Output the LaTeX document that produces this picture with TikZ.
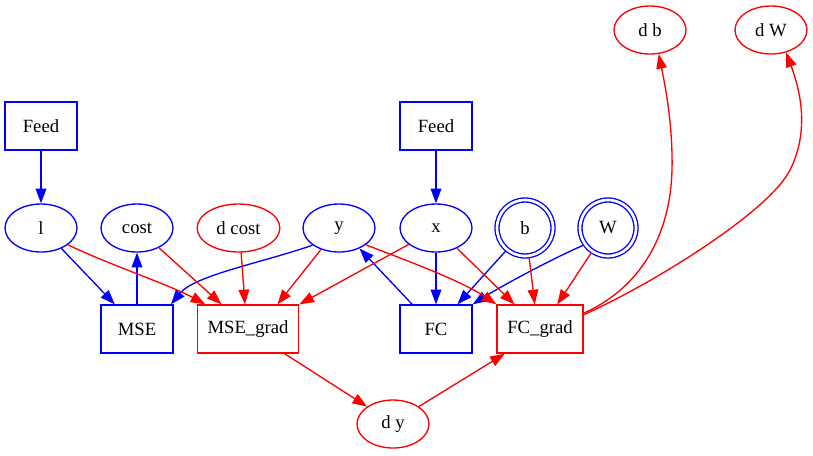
\documentclass[tikz,border=0pt]{standalone}
\usepackage{fontspec}
\setmainfont{Liberation Serif}
\usetikzlibrary{shapes.geometric,arrows.meta}
\begin{document}
\begin{tikzpicture}[x=0.75pt,y=-0.75pt,
  every node/.style={font=\fontsize{14}{16}\selectfont, line width=1pt, inner sep=0pt},
  boxnode/.style={draw, rectangle, minimum width=54pt, minimum height=36pt},
  ellnode/.style={draw, ellipse, minimum width=54pt, minimum height=36pt},
  dcirc/.style={draw, circle, minimum size=42pt, double, double distance=2pt, outer sep=1.5pt},
  bl/.style={draw=blue, text=black},
  rd/.style={draw=red, text=black},
  bedge/.style={blue, line width=1pt, -{Triangle[length=11pt,width=8pt]}},
  redge/.style={red, line width=1pt, -{Triangle[length=11pt,width=8pt]}},
]
\useasboundingbox (0,0) rectangle (813,455);
\node[boxnode,bl] (f1) at (41,126) {Feed};
\node[boxnode,bl] (f2) at (436,126) {Feed};
\node[ellnode,bl] (l) at (41,228) {l};
\node[ellnode,bl] (cost) at (137,228) {cost};
\node[ellnode,rd,minimum width=62pt] (dcost) at (238.5,228) {d cost};
\node[ellnode,bl] (y) at (339,228) {y};
\node[ellnode,bl] (x) at (436,228) {x};
\node[dcirc,bl] (b) at (525,228) {b};
\node[dcirc,bl] (W) at (608,228) {W};
\node[ellnode,rd] (db) at (650,30) {d b};
\node[ellnode,rd] (dW) at (771,30) {d W};
\node[boxnode,bl] (MSE) at (137,329) {MSE};
\node[boxnode,rd,minimum width=76pt] (MSEg) at (248,329) {MSE\_grad};
\node[boxnode,bl] (FC) at (436,329) {FC};
\node[boxnode,rd,minimum width=64.5pt] (FCg) at (540,329) {FC\_grad};
\node[ellnode,rd] (dy) at (393,424) {d y};
% blue edges
\draw[bedge] (f1) -- (l);
\draw[bedge] (f2) -- (x);
\draw[bedge] (l.-45) -- (MSE.132);
\draw[bedge] (MSE) -- (cost);
\draw[bedge] (y.213) .. controls (265,262) and (195,275) .. (MSE.36);
\draw[bedge] (FC.134) -- (y.-45);
\draw[bedge] (x) -- (FC);
\draw[bedge] (b.230) -- (FC.49);
\draw[bedge] (W.215) .. controls (545,262) and (495,290) .. (FC.north east);
% red edges
\draw[redge] (l.-32) .. controls (110,265) and (170,285) .. (MSEg.150);
\draw[redge] (cost.-42) -- (MSEg.137);
\draw[redge] (dcost.-84) -- (MSEg.97);
\draw[redge] (y.230) -- (MSEg.40);
\draw[redge] (x.211) -- (MSEg.north east);
\draw[redge] (y.-32) .. controls (400,258) and (460,280) .. (FCg.north west);
\draw[redge] (x.-44) -- (FCg.136);
\draw[redge] (b.-82) -- (FCg.102);
\draw[redge] (W.236) -- (FCg.55);
\draw[redge] (FCg.20) .. controls (632,292) and (670,245) .. (672,170) .. controls (673,125) and (665,85) .. (db.-70);
\draw[redge] (FCg.18) .. controls (660,280) and (770,210) .. (790,170) .. controls (810,130) and (800,90) .. (dW.-56);
\draw[redge] (MSEg.-34) -- (dy.146);
\draw[redge] (dy.34) -- (FCg.215);
\end{tikzpicture}
\end{document}
